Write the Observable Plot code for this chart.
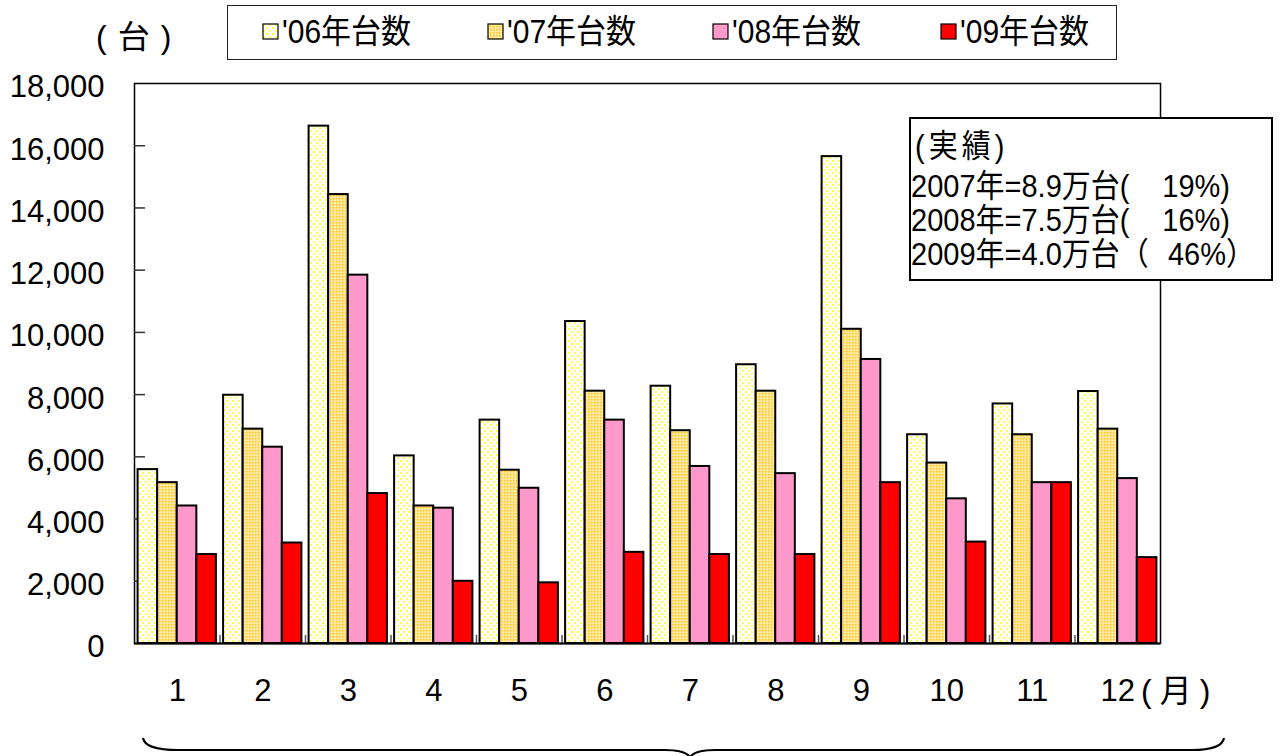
<!DOCTYPE html>
<html>
<head>
<meta charset="utf-8">
<script src="https://cdn.jsdelivr.net/npm/d3@7"></script>
<script src="https://cdn.jsdelivr.net/npm/@observablehq/plot@0.6"></script>
<style>
  body { margin: 0; background: #fff; }
  #wrap { position: relative; width: 1288px; height: 756px; overflow: hidden; background: #fff;
          font-family: "Liberation Sans", Arial, "Noto Sans CJK JP", sans-serif; color: #000; }
  #chart { position: absolute; left: 0; top: 0; }
  .abs { position: absolute; white-space: pre; line-height: 1; }
  #legend { position: absolute; left: 227px; top: 5px; width: 888px; height: 53px;
            border: 1.5px solid #222; background: #fff; }
  .litem { position: absolute; font-size: 30px; white-space: pre; line-height: 32px; transform: scaleY(1.08); transform-origin: left center; }
  .lsw { position: absolute; }
  #note { position: absolute; left: 909px; top: 117px; width: 360px; height: 160px;
          border: 2.5px solid #000; background: #fff; }
  .nline { position: absolute; font-size: 29px; white-space: pre; line-height: 1; transform: scaleY(1.1); }
</style>
</head>
<body>
<svg width="0" height="0" style="position:absolute">
  <defs>
    <pattern id="p06" width="6" height="6" patternUnits="userSpaceOnUse">
      <rect width="6" height="6" fill="#ffffff"/>
      <rect x="1" y="1" width="2" height="2" fill="#ffff40"/>
      <rect x="4" y="4" width="2" height="2" fill="#ffff40"/>
    </pattern>
    <pattern id="p07" width="3" height="3" patternUnits="userSpaceOnUse">
      <rect width="3" height="3" fill="#ffe48a"/>
      <rect x="0" y="0" width="1.5" height="1.5" fill="#ffc633"/>
      <rect x="1.5" y="1.5" width="1.5" height="1.5" fill="#ffefb0"/>
    </pattern>
  </defs>
</svg>
<div id="wrap">
  <div id="chart"></div>
  <div id="unit" class="abs"></div>
  <div id="legend"></div>
  <div id="note"></div>
  <div id="monthUnit" class="abs"></div>
  <svg id="brace" width="1288" height="756" style="position:absolute;left:0;top:0;pointer-events:none"></svg>
</div>
<script>
// ---------- data ----------
const months = ["1","2","3","4","5","6","7","8","9","10","11","12"];
const seriesNames = ["'06年台数", "'07年台数", "'08年台数", "'09年台数"];
const v06 = [5590, 7980, 16630, 6030, 7180, 10350, 8270, 8960, 15650, 6710, 7700, 8100];
const v07 = [5170, 6890, 14430, 4420, 5570, 8110, 6840, 8110, 10100, 5800, 6710, 6890];
const v08 = [4420, 6310, 11840, 4350, 4990, 7180, 5690, 5460, 9130, 4650, 5170, 5300];
const v09 = [2860, 3230, 4820, 2000, 1950, 2930, 2860, 2860, 5170, 3260, 5170, 2760];
const yTicks = [0, 2000, 4000, 6000, 8000, 10000, 12000, 14000, 16000, 18000];
const unitY = "(台)";
const unitX = "(月)";
const noteTitle = "(実績)";
const noteLeft = ["2007年=8.9万台(", "2008年=7.5万台(", "2009年=4.0万台（"];
const noteRight = ["19%)", "16%)", "46%）"];

// ---------- layout ----------
const W = 1288, H = 756, mL = 134, mR = 128, mT = 83, mB = 113;
const innerW = W - mL - mR;
const bw = innerW / months.length;
const pad = 3.6;
const barW = (bw - 2 * pad) / 4;
const fills = ["url(#p06)", "url(#p07)", "#ff99cc", "#ff0000"];
const seriesVals = [v06, v07, v08, v09];

const marks = [];
seriesVals.forEach((vals, i) => {
  const data = months.map((m, j) => ({month: m, value: vals[j], series: seriesNames[i]}));
  marks.push(Plot.barY(data, {
    x: "month", y: "value", fill: fills[i], stroke: "#000", strokeWidth: 2,
    insetLeft: pad + i * barW, insetRight: pad + (3 - i) * barW
  }));
});

const chart = Plot.plot({
  width: W, height: H,
  marginLeft: mL, marginRight: mR, marginTop: mT, marginBottom: mB,
  style: {background: "transparent", color: "#000", fontFamily: "'Liberation Sans', Arial, 'Noto Sans CJK JP', sans-serif"},
  x: {type: "band", domain: months, padding: 0, round: false, label: null, axis: null},
  y: {domain: [0, 18000], label: null, axis: null},
  marks: [
    Plot.frame({stroke: "#000", strokeWidth: 1.5}),
    Plot.ruleY(yTicks.filter(d => d > 0 && d < 18000), {y: d => d, insetRight: innerW - 11, stroke: "#333", strokeWidth: 1.5}),
    ...marks,
    Plot.ruleX(months.slice(1), {x: d => d, y1: 0, y2: 260, dx: -bw / 2, stroke: "#555", strokeWidth: 1.5}),
    Plot.ruleY([0], {stroke: "#000", strokeWidth: 2}),
    Plot.axisY(yTicks, {tickSize: 0, tickPadding: 30, tickFormat: d3.format(","), fontSize: 31, dy: 4, label: null}),
    Plot.axisX({tickSize: 0, tickPadding: 35, fontSize: 31, label: null})
  ]
});
document.getElementById("chart").appendChild(chart);

// ---------- units ----------
const unit = document.getElementById("unit");
unit.textContent = unitY;
unit.style.cssText += "left:96px;top:21px;font-size:32px;letter-spacing:11px;";
const mu = document.getElementById("monthUnit");
mu.textContent = unitX;
mu.style.cssText += "left:1141px;top:675px;font-size:32px;letter-spacing:8px;";

// ---------- legend ----------
const legend = document.getElementById("legend");
const lx = [34, 259, 484, 712];
seriesNames.forEach((name, i) => {
  const sw = document.createElementNS("http://www.w3.org/2000/svg", "svg");
  sw.setAttribute("width", 18); sw.setAttribute("height", 18);
  sw.setAttribute("class", "lsw");
  sw.style.left = lx[i] + "px";
  sw.style.top = "17px";
  sw.innerHTML = `<rect x="1" y="1" width="15" height="15" fill="${fills[i]}" stroke="#000" stroke-width="1.2"/>`;
  legend.appendChild(sw);
  const t = document.createElement("div");
  t.className = "litem";
  t.textContent = name;
  t.style.left = (lx[i] + 20) + "px";
  t.style.top = "10px";
  legend.appendChild(t);
});

// ---------- note box ----------
const note = document.getElementById("note");
const tl = document.createElement("div");
tl.className = "nline"; tl.textContent = noteTitle;
tl.style.left = "4px"; tl.style.top = "13px"; tl.style.letterSpacing = "4px";
note.appendChild(tl);
const rightEnds = [319, 319, 344];
noteLeft.forEach((s, i) => {
  const a = document.createElement("div");
  a.className = "nline"; a.textContent = s;
  a.style.left = "0px"; a.style.top = (53 + i * 34) + "px";
  note.appendChild(a);
  const b = document.createElement("div");
  b.className = "nline"; b.textContent = noteRight[i];
  b.style.right = (360 - rightEnds[i]) + "px"; b.style.top = (53 + i * 34) + "px";
  b.style.textAlign = "right";
  note.appendChild(b);
});

// ---------- brace ----------
d3.select("#brace").append("path")
  .attr("d", "M143,738 Q145,750 178,750 L665,750 Q685,750 690,757 Q695,750 715,750 L1192,750 Q1222,750 1224,738")
  .attr("fill", "none").attr("stroke", "#000").attr("stroke-width", 2.2);
</script>
</body>
</html>
